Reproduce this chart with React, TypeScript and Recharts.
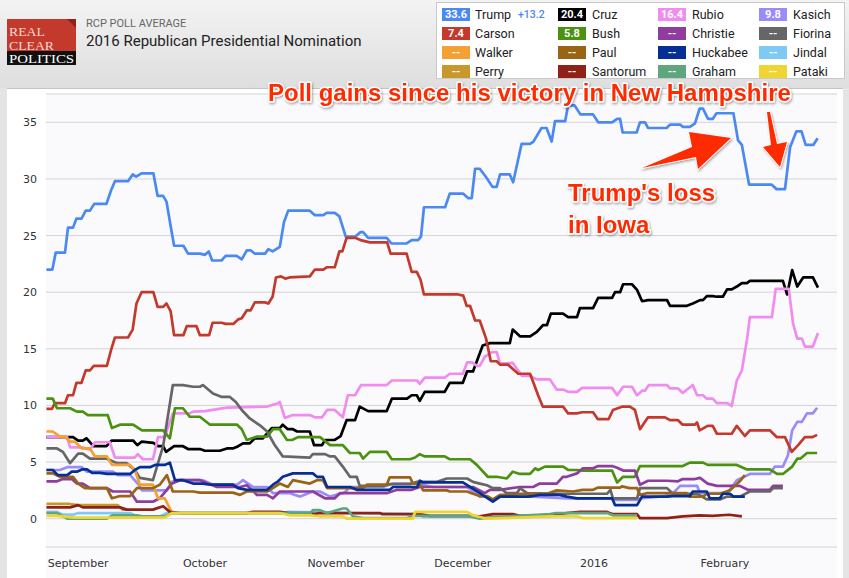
import { LineChart, Line, XAxis, YAxis, CartesianGrid } from "recharts";

type P = [number, number];

// x = days since Sep 1, 2015
const monthTicks = [0, 30, 61, 91, 122, 153];
const monthLabels = ["September", "October", "November", "December", "2016", "February"];
const yTicks = [0, 5, 10, 15, 20, 25, 30, 35];

const trump: P[] = [[-7.5,22],[-6.1,22],[-5.3,23.5],[-3.1,23.5],[-2.4,25.7],[-1.2,25.7],[-0.4,26.5],[0.8,26.5],[1.8,27.2],[2.8,27.2],[3.8,27.8],[6.7,27.8],[7.8,29],[8.7,29.8],[11.8,29.8],[12.9,30.4],[13.7,30.2],[15,30.5],[17.8,30.5],[18.8,28.5],[20.1,28.5],[20.9,28],[21.9,25.8],[22.7,24.1],[24.9,24.1],[26,23.4],[28.8,23.4],[30,23.3],[30.9,23.6],[31.7,22.8],[33.9,22.8],[34.9,23.2],[37.5,23.2],[38.7,22.9],[39.9,23.7],[40.8,23.7],[41.8,23.4],[44.2,23.4],[45,23.8],[46,23.6],[47.7,24],[48.7,26.2],[49.7,27.2],[54.8,27.2],[56,26.8],[58,26.8],[58.8,27],[60.7,27],[61.8,26.7],[63.3,24.9],[65.5,24.9],[66.8,25.3],[67.4,25.3],[68.6,24.8],[73,24.8],[74.1,24.3],[77.7,24.3],[78.9,24.6],[80.4,24.6],[81.1,24.9],[81.8,27.5],[86.8,27.5],[87.9,28.7],[91.1,28.7],[92.3,28.3],[93.1,28.3],[93.9,30.9],[95,30.9],[96.6,30.1],[98,29.3],[99,29.3],[99.8,30.4],[102.1,30.4],[102.9,29.7],[104.9,33.1],[106.9,33.1],[107.7,33.3],[109.6,34.5],[110.8,34.5],[112,33.3],[112.8,35.1],[115.2,35.1],[115.9,36.5],[117.4,36.5],[118.8,35.7],[121.8,35.7],[123,35],[126.3,35],[127.5,35.3],[128.2,35.3],[128.8,34.1],[132.1,34.1],[132.9,35],[134.1,35],[134.8,34.5],[139.2,34.5],[140,34.8],[142.4,34.8],[143,34.6],[144.7,34.6],[145.9,34.9],[147,36.2],[147.8,36.2],[149,35.3],[150.1,35.3],[151,35.8],[155,35.8],[156.1,33.4],[157,33],[158.7,29.5],[164,29.5],[165.2,29.1],[167.2,29.1],[168.4,32.8],[169.9,34.2],[171.1,34.2],[172.1,33],[173.9,33],[174.9,33.6]];

const cruz: P[] = [[-7.5,7.2],[-1.2,7.2],[0,6.9],[1.1,6.9],[2,7.1],[3.6,6.4],[6.7,6.4],[7.9,6.9],[13,6.9],[14,6.5],[15,6.8],[17.8,6.7],[18.9,6.4],[20.1,6.4],[20.8,5.9],[22.7,6.4],[24.8,6.4],[26,6.15],[28.8,6.15],[30,6],[33.5,6],[35.2,6.2],[36.6,6.2],[37.6,6.35],[39,6.65],[40.6,6.65],[41.8,7.1],[43.7,7.1],[44.4,7.4],[45.8,8],[47.7,8],[48.4,8.3],[49.6,7.9],[50.8,7.9],[51.8,7.7],[54.8,7.7],[55.8,6.5],[57.7,6.5],[58.4,6.95],[60.7,6.95],[62.1,7.3],[63.5,8.7],[65.5,8.7],[66.6,9.9],[68.6,9.5],[73,9.5],[74.2,10.6],[77.8,10.6],[78.9,10.9],[80.1,10.9],[80.8,10.4],[82,11.2],[86.7,11.2],[87.9,12],[91,12],[92,13],[93.4,13],[95.7,15.3],[97.4,15.5],[102.1,15.5],[102.8,16.7],[104.5,16.1],[106.9,16.1],[108.5,16.5],[110,17.1],[110.9,17.1],[111.8,18.1],[114.7,18.1],[115.9,17.8],[118,17.8],[118.7,18.6],[121.8,18.6],[123,19.5],[126.3,19.5],[127,20],[128.2,20],[128.9,20.7],[131,20.7],[132.2,20.2],[133.4,19.2],[134.8,19.3],[139.3,19.3],[140,18.8],[144,18.8],[145.4,19],[147.1,19.3],[147.8,19.3],[148.7,19.65],[150.1,19.65],[151.1,19.6],[152.5,19.6],[153.5,20.25],[154.6,20.25],[155.8,20.5],[157,20.8],[158.2,20.8],[158.9,21],[166.7,21],[167.7,19.8],[168.9,21.95],[170.1,20.5],[171.5,21.3],[173.8,21.3],[175,20.4]];

const rubio: P[] = [[-7.5,7.2],[-2.6,7.2],[-1.9,6.3],[0.9,6.3],[2.8,6.1],[4,6.75],[7.5,6.75],[8.7,5.4],[13.4,5.4],[14.1,5.7],[15.3,5.25],[17.7,5.25],[18.9,7.2],[20.5,7.2],[22.4,9.3],[26.4,9.3],[27.2,9.45],[30,9.5],[35.2,9.8],[44.7,9.9],[47.3,10.2],[47.7,10.3],[48.9,8.9],[50.8,9.15],[54.8,9.15],[56,8.95],[57.7,8.95],[58.9,9.6],[60.7,9.6],[62.6,8.95],[63.8,10.9],[65.5,10.9],[66.9,11.8],[73,11.8],[74.2,12.2],[80.2,12.2],[80.8,11.9],[82,12.45],[86.7,12.45],[87.9,12.8],[91,12.8],[92,13.8],[93.2,13.8],[94.3,13.5],[95,13.5],[96.2,14.3],[97.9,14.7],[99,14.7],[99.8,13.7],[102.8,13.75],[105,12.6],[106.9,12.6],[108.5,12.3],[111.6,12.3],[113.2,11.4],[114.7,11.4],[115.9,11.2],[118,11.2],[119.2,11.55],[126.3,11.55],[127.5,10.9],[128.9,11.65],[131,11.65],[132.2,10.9],[133.4,11.3],[134.1,11.3],[135,11.8],[139.3,11.8],[140,11.5],[141.9,11.5],[143,11.1],[145.4,11.8],[146.4,10.9],[147.8,10.9],[148.7,10.6],[150.1,10.6],[151.1,10.2],[153.5,10.2],[154.6,9.95],[155.8,12.2],[157,13.1],[158.2,15.8],[158.9,17.8],[164.1,17.8],[165,20.3],[168.1,20.3],[169.1,17.25],[170.1,15.9],[171.2,15.9],[171.9,15.2],[173.8,15.2],[175,16.4]];

const kasich: P[] = [[-7.5,4.3],[-4.3,4.3],[-2.6,4.55],[0.9,4.55],[2.1,4.15],[8.2,4.15],[9.4,3.85],[12.3,3.85],[14.1,3.1],[15.1,2.5],[21,2.5],[22.2,3.25],[24.1,3.4],[29.5,3.4],[31.9,3],[37.6,3],[39,3.4],[41.3,2.8],[44.7,2.8],[46.1,2.25],[50.1,2.25],[52.5,1.95],[55.5,2.4],[57.2,2.4],[59.6,1.95],[63,2.3],[64.3,2.8],[72.1,2.8],[74.5,3.1],[80.2,3.1],[83.9,2.8],[92,2.8],[95,1.95],[96.7,1.95],[98,1.6],[99.8,1.95],[107.6,1.95],[115.6,1.8],[126.3,1.8],[126.5,1.65],[132.2,1.65],[132.9,1.8],[138.8,2],[140.7,2.25],[142.4,2.9],[146.4,2.9],[147.1,2.25],[153.5,2.25],[155.8,3.4],[158.9,3.95],[163.6,3.95],[164.8,4.6],[166.7,4.6],[167.9,5.6],[168.9,7.8],[170.1,8.55],[171.2,8.55],[172.4,9.3],[173.8,9.3],[174.8,9.8]];

const carson: P[] = [[-7.5,9.7],[-6.2,9.7],[-5.5,10.2],[-3.1,10.2],[-2.4,10.9],[-1.2,10.9],[-0.4,12],[0.8,12],[1.8,13.1],[2.8,13.1],[3.7,13.5],[6.8,13.5],[7.8,14.9],[8.7,16],[11.8,16],[12.9,16.7],[13.8,19],[15,20],[17.8,20],[18.8,18.7],[20.1,18.7],[20.9,19],[21.9,18.3],[22.7,16.2],[24.9,16.2],[25.7,17],[28,17],[28.8,16.2],[31,16.2],[31.8,17.3],[33.9,17.3],[34.9,17.2],[36.7,17.2],[37.9,17.6],[38.7,17.7],[39.9,18.4],[40.8,18.4],[41.8,19.1],[44.2,19.1],[45,19],[46,19.6],[46.8,21.3],[48,21.4],[49,21.2],[50,21.3],[54.8,21.4],[56,22],[58,22],[58.8,22.2],[60.7,22.2],[61.8,23.6],[62.5,23.6],[63.5,24.8],[65.5,24.8],[66.8,24.6],[69,24.4],[73.1,24.4],[73.9,23.4],[77.7,23.4],[78.9,21.8],[80.1,21.8],[81,21.1],[81.8,19.8],[89.9,19.8],[91.1,19.7],[91.9,18.8],[92.7,18.8],[93.9,17.5],[95,17.5],[96.5,15.9],[97.6,13.9],[99,13.9],[99.8,13.6],[101.7,13.6],[104.1,12.8],[106.9,12.8],[107.7,12],[108.8,10.9],[109.9,9.9],[114.7,9.9],[115.9,9.3],[118,9.3],[119.2,9.4],[121.8,9.4],[122.9,8.8],[125.5,8.8],[126.5,9.6],[128.8,9.9],[130.5,9.9],[131.7,9.6],[132.9,7.9],[134.8,8.95],[138.8,8.95],[140,8.7],[141.9,8.7],[143,8.3],[145.9,8.3],[146.4,8.5],[147,7.8],[148.9,8.2],[150.1,8.2],[151.1,7.5],[154.6,7.5],[155.8,8.2],[157.7,7.3],[158.9,7.8],[163.6,7.8],[165.3,7.2],[167.2,7.2],[168.8,5.9],[170.3,6.5],[171.9,7.2],[173.6,7.2],[174.8,7.4]];

const bush: P[] = [[-7.5,10.6],[-6,10.6],[-5,9.75],[-1.9,9.75],[-0.3,9.45],[1.1,9.45],[2.3,9.15],[7,9.15],[8,8],[9.9,8.3],[13,8.3],[15.1,7.8],[20.1,7.8],[21.7,7.1],[22.9,9.75],[24.8,9.75],[26.4,9],[28.8,9],[31.2,8.3],[37.6,8.3],[38.7,7.9],[39.9,6.95],[42.3,7.25],[44.7,7.25],[46.1,7.9],[47.7,7.9],[49.4,6.95],[50.6,6.95],[52,7.2],[57.2,7.2],[59.6,6.5],[62.6,6.5],[64.3,5.8],[66.6,5.8],[67.4,5.3],[69,5.9],[73,5.9],[74.2,5.25],[78.5,5.25],[79.7,5.4],[80.8,5.7],[82,5.5],[86.7,5.5],[87.9,5.25],[92.7,5.25],[94.3,4.75],[96.9,3.7],[99,3.7],[101.4,3.55],[102.8,4.15],[104.5,3.95],[106.9,3.95],[108.1,4.45],[108.8,4.3],[110.4,4.6],[114.7,4.6],[115.9,4.3],[118,4.3],[119.4,4.25],[126.3,4.25],[127.5,3.2],[128.9,3.7],[131.7,3.7],[132.9,4.65],[143,4.65],[144.7,4.95],[147.8,4.95],[148.9,4.75],[155.8,4.75],[158.2,4.35],[163.6,4.35],[165.3,3.95],[166.7,3.95],[168.9,4.6],[170.1,5.3],[170.8,5.3],[172.4,5.8],[174.8,5.8]];

const christie: P[] = [[-7.5,3.3],[-5,3.3],[-3.6,3.5],[-1.5,3.5],[-0.3,3.1],[1.1,3.1],[2.8,2.7],[6.8,2.7],[8.2,2.4],[12.3,2.4],[13.9,1.5],[17.7,1.5],[19.3,1.8],[22.2,3.1],[24.1,3.4],[28.8,3.4],[32.8,2.8],[38.3,2.8],[39.9,2.95],[42.3,2.1],[44.7,2.1],[46.1,1.8],[47.7,2.4],[55.5,2.4],[58.4,1.8],[60.7,1.8],[61.9,2.25],[73,2.25],[75.4,2.55],[78.9,2.55],[80.8,2.8],[93.4,2.8],[96.2,2.25],[97.4,2.55],[99.8,2.55],[104.5,2.8],[107.6,2.8],[109.2,3.1],[113.2,3.1],[114.7,3.7],[115.6,3.7],[118,4],[119.4,4.45],[121.8,4.45],[123,4.65],[126.3,4.65],[127.5,4.5],[128.9,4.25],[131.7,4.25],[132.9,3],[134.8,3.35],[139.3,3.35],[141.9,3.3],[143,3.5],[145.9,3.5],[147.1,3.6],[148.9,3.1],[151.1,2.9],[156.5,2.9],[158.4,2.55],[163.6,2.55],[164.4,2.9],[166.7,2.9]];

const fiorina: P[] = [[-7.5,6.2],[-5,6.2],[-3.6,5.9],[-1.9,4.9],[0,5.75],[1.1,5.75],[2.8,5.3],[6.8,5.3],[9.2,4.9],[11.5,4.9],[13.4,4.3],[14.6,3.6],[17.7,3.4],[20.1,6.4],[22.4,11.8],[24.8,11.8],[27.2,11.65],[28.8,11.65],[29.5,11.8],[31.9,11.05],[34,10.75],[35.9,10.75],[37.3,10.3],[38.7,9.6],[40.6,8.85],[43,8.25],[44.7,7.7],[46.5,6.5],[48.4,5.5],[54.8,5.4],[55.5,5.7],[58.4,5.7],[59.6,5.5],[60.7,5.5],[62.6,4.6],[64.3,3.7],[65.9,3.7],[66.6,2.9],[72.1,2.9],[73.7,3.05],[78.5,3.05],[80.2,3.25],[84.9,3.25],[87.2,3.55],[92,3.55],[93.4,3.25],[95,3.1],[96.7,2.95],[98.1,2.7],[99.8,2.7],[101.4,2.25],[103.8,2.25],[104.5,2.7],[106.2,2.25],[113.9,2.2],[125.1,2.2],[125.9,2.55],[126.5,1.8],[132.2,1.8],[132.9,2.7],[139.3,2.7],[140.7,2.2],[146.4,2.2],[148.7,1.7],[151.8,1.7],[153.5,1.95],[156.5,1.95],[158.9,2.4],[163.6,2.4],[164.4,2.7],[166.7,2.7]];

const walker: P[] = [[-7.5,7.7],[-6,7.7],[-4.3,7.25],[-3.1,7.25],[-1.9,6.8],[-0.8,6.8],[0.9,6.2],[2.8,6.2],[4,5.5],[6.8,5.5],[8,4.75],[12.3,4.75],[13.4,4.3],[14.6,3],[17.7,3],[18.9,1.8],[20.5,1.8],[22.2,0.5]];

const paul: P[] = [[-7.5,4],[-6,4],[-4.3,3.7],[-1.2,3.7],[0,3.1],[1.6,2.7],[6.8,2.7],[8,1.8],[9.9,2],[12.3,2],[13.9,2.7],[17.7,2.7],[19.3,3],[21,3.85],[22.4,2.4],[27.2,2.4],[28.8,2.3],[36.6,2.3],[38.3,2.1],[39.9,2.4],[44.7,2.4],[45.4,2.55],[47.7,3.1],[49.6,2.8],[50.8,3.4],[54.8,3.1],[56.5,3.4],[57.9,3.4],[58.9,2.7],[67.4,2.7],[68.3,3],[73,3],[73.7,3.65],[78.5,3.65],[79.2,3.1],[80.8,3.1],[81.6,2.5],[87.2,2.5],[87.9,2.4],[92,2.4],[93.4,2.2],[95,2],[96.7,2],[98.1,1.7],[99.8,2.1],[102.8,2.1],[104.5,2.2],[110.9,2.2],[113.2,2.5],[117,2.4],[119.4,2.55],[121.8,2.55],[123,2.75],[128.2,2.75],[128.6,2.85],[130.5,2.7],[132.2,2.7],[132.9,2.1],[134.5,2.25],[144,2.25],[144.7,1.95],[147.8,1.95],[148.7,2.2],[151.8,2.2],[154.2,2.5],[156.5,3.3],[157.7,3.85]];

const huckabee: P[] = [[-7.5,4.3],[-6,4.3],[-4.8,3.85],[-2.6,3.85],[-1.5,4.15],[-0.3,4.15],[0.9,4.35],[2.1,4.35],[3.3,4.05],[5.2,4.05],[6.8,3.95],[12.3,3.95],[13.4,4.3],[14.6,4.55],[17,4.55],[18.2,4.75],[20.5,4.75],[21.7,4.95],[22.9,3.4],[24.8,3.4],[27.2,3.1],[29.5,3.1],[31.2,3],[36.6,3],[37.8,2.7],[39.9,2.55],[44.7,2.55],[46.1,3],[47.3,3.3],[48.4,3.7],[50.8,4],[55.5,4],[56.5,3.7],[57.9,3.7],[58.9,2.8],[64.3,2.8],[65.9,2.55],[73.7,2.55],[74.5,2.8],[80.2,2.8],[80.8,3.35],[81.6,3.2],[91,3.2],[92.7,2.8],[95,2.25],[98.1,1.5],[99.8,1.95],[106.2,1.95],[107.6,2],[109.2,2.1],[113.9,2.1],[115.6,1.95],[118,1.8],[126.3,1.8],[127,1.2],[132.2,1.2],[133.4,1.95],[139.3,1.95],[140.7,2],[144.7,2],[145.4,2.4],[148.7,2.4],[149.4,1.8],[151.8,1.8],[152.5,2.2],[154.2,2.2],[155,1.95],[157.7,1.95]];

const jindal: P[] = [[-7.5,0.6],[-5,0.6],[-3.6,0.35],[-1.2,0.35],[0,0.5],[12.3,0.5],[13.9,0.2],[19.3,0.2],[21,0.5],[47.7,0.5],[50,0.6],[65,0.5],[81,0.4],[81.6,0.15],[92.7,0.15]];

const perry: P[] = [[-7.5,1.3],[-2,1.3],[0,1.2],[9.4,1.2],[10.5,0.8],[11.5,0.8]];

const santorum: P[] = [[-7.5,1],[-1.9,1],[0,1.2],[1.1,1],[9.9,1],[11.5,0.8],[17.7,0.8],[20.1,1.1],[21.7,0.6],[24.1,0.5],[39.9,0.5],[41.3,0.6],[47.7,0.6],[50,0.5],[54.8,0.5],[56,0.4],[57,0.5],[71.4,0.5],[72,0.4],[80.8,0.4],[83.2,0.25],[92,0.25],[95,0.2],[98.1,0.4],[102.8,0.4],[104.5,0.25],[111.6,0.25],[115.6,0.5],[118.7,0.6],[125.1,0.6],[126.5,0.4],[132.2,0.4],[132.9,0.05],[139.3,0.05],[143,0.2],[147,0.3],[150,0.25],[154,0.35],[157,0.2]];

const graham: P[] = [[-7.5,0.5],[-5,0.5],[-2.6,0],[6.8,0],[8.2,0.3],[13.9,0.3],[15.1,0.2],[20.5,0.2],[22.2,0.5],[55,0.5],[55.5,0.75],[57.2,0.75],[58.9,0.5],[62.6,0.9],[63.5,0.9],[65,0.2],[67.4,0.05],[77.8,0.05],[79.2,0.25],[92,0.25],[95,0],[97,0.1],[104,0.25],[111.6,0.4],[113,0.5],[125.1,0.5],[126.5,0.3],[132.2,0.3]];

const pataki: P[] = [[-7.5,0.25],[-5,0.25],[-1,0.1],[20.5,0.1],[22.2,0.5],[47.7,0.5],[50,0.3],[55,0.3],[57.2,0.2],[62.6,0.2],[63.5,0],[79.2,0],[79.7,0.6],[92,0.6],[93.4,0.3],[96.7,0],[104,0.1],[111.6,0.2],[118,0.2],[119.4,0.05],[132.2,0.05]];

const series = [
  { name: "Trump", color: "#4a89f3", points: trump, active: true },
  { name: "Cruz", color: "#000000", points: cruz, active: true },
  { name: "Rubio", color: "#f08cf0", points: rubio, active: true },
  { name: "Kasich", color: "#9a8cf8", points: kasich, active: true },
  { name: "Carson", color: "#c33a2c", points: carson, active: true },
  { name: "Bush", color: "#4a9210", points: bush, active: true },
  { name: "Christie", color: "#8e3d9c", points: christie, active: false },
  { name: "Fiorina", color: "#666666", points: fiorina, active: false },
  { name: "Walker", color: "#f5a033", points: walker, active: false },
  { name: "Paul", color: "#9a6416", points: paul, active: false },
  { name: "Huckabee", color: "#062f96", points: huckabee, active: false },
  { name: "Jindal", color: "#7fcaf4", points: jindal, active: false },
  { name: "Perry", color: "#c8982a", points: perry, active: false },
  { name: "Santorum", color: "#8e2219", points: santorum, active: false },
  { name: "Graham", color: "#5fa67f", points: graham, active: false },
  { name: "Pataki", color: "#f0d532", points: pataki, active: false },
];

const last = (p: P[]) => p[p.length - 1][1];

const badgeX = [441, 557, 657, 758];
const nameX = [474, 591, 691, 792];
const rowY = [7, 26, 45, 64];

const Legend = () => (
  <div style={{ position: "absolute", left: 436, top: 2, width: 409, height: 77, background: "#fff", border: "1px solid #c9c9c9", boxSizing: "border-box" }}>
    {series.map((s, i) => {
      const col = i % 4;
      const row = Math.floor(i / 4);
      return (
        <div key={s.name}>
          <div style={{ position: "absolute", left: badgeX[col] - 436, top: rowY[row] - 2, width: 28, height: 13, background: s.color, color: "#fff", font: "bold 11px Roboto", lineHeight: "13px", textAlign: "center" }}>
            {s.active ? last(s.points).toFixed(1) : "--"}
          </div>
          <div style={{ position: "absolute", left: nameX[col] - 436, top: rowY[row] - 4, font: "12.5px Roboto", lineHeight: "17px", color: "#222" }}>{s.name}</div>
        </div>
      );
    })}
    <div style={{ position: "absolute", left: 517 - 436, top: rowY[0] - 4, font: "500 10.5px Roboto", lineHeight: "17px", color: "#4a89f3" }}>
      +{(last(trump) - last(cruz)).toFixed(1)}
    </div>
  </div>
);

const Logo = () => (
  <svg width={70} height={47} style={{ position: "absolute", left: 7, top: 19 }}>
    <rect x={0} y={0} width={69} height={33} fill="#c33a2c" />
    <polygon points="60,0 69,0 69,9" fill="#8f2219" />
    <rect x={0} y={32} width={69} height={14} fill="#111" />
    <g fontFamily="Liberation Serif, serif" fill="#f6d9d3">
      <text x={2} y={17} fontSize={12} textLength={36} lengthAdjust="spacingAndGlyphs">REAL</text>
      <text x={2} y={30.5} fontSize={12} textLength={45} lengthAdjust="spacingAndGlyphs">CLEAR</text>
    </g>
    <text x={2} y={44} fontSize={12} fill="#fff" fontFamily="Liberation Serif, serif" textLength={65} lengthAdjust="spacingAndGlyphs">POLITICS</text>
  </svg>
);

const Notes = () => (
  <svg width={849} height={578} style={{ position: "absolute", left: 0, top: 0, pointerEvents: "none" }}>
    <defs>
      <filter id="sh" x="-10%" y="-30%" width="120%" height="160%">
        <feDropShadow dx="1" dy="1.5" stdDeviation="1.2" floodColor="#000" floodOpacity="0.35" />
      </filter>
    </defs>
    <g filter="url(#sh)" fill="#fe2a00" stroke="#fff" strokeWidth={3} strokeLinejoin="round" style={{ paintOrder: "stroke" }} fontFamily="Liberation Sans, Arial, sans-serif" fontWeight="bold" fontSize={24}>
      <text x={268} y={101}>Poll gains since his victory in New Hampshire</text>
      <text x={568} y={201}>Trump's loss</text>
      <text x={568} y={233}>in Iowa</text>
      <polygon points="642,168 692,147 689,132 731,138 698,169 696,157" strokeWidth={1.5} />
      <polygon points="767,112 771,145 763,147 780,167 787,142 777,144 770,112" strokeWidth={1.5} />
    </g>
  </svg>
);

export default function App() {
  return (
    <div style={{ position: "fixed", left: 0, top: 0, width: 849, height: 578, overflow: "hidden", background: "linear-gradient(#f3f3f3, #dedede 88px, #e4e4e4 88px)" }}>
      <Logo />
      <div style={{ position: "absolute", left: 86, top: 17, font: "11px Roboto", color: "#666" }}>RCP POLL AVERAGE</div>
      <div style={{ position: "absolute", left: 86, top: 32, font: "15px Roboto", color: "#222" }}>2016 Republican Presidential Nomination</div>
      <Legend />
      <div style={{ position: "absolute", left: 7, top: 88, width: 836, height: 490, background: "#fff", borderTop: "1px solid #c4c4c4", boxSizing: "border-box" }} />
      <div style={{ position: "absolute", left: 46, top: 94, width: 791, height: 484, background: "#fafafd" }} />
      <LineChart width={849} height={489} style={{ position: "absolute", left: 0, top: 89 }} margin={{ top: 5, right: 12, bottom: 0, left: 0 }}>
        <CartesianGrid vertical={false} stroke="#d4d4d4" />
        <XAxis
          dataKey="d"
          type="number"
          domain={[-7.6, 179.5]}
          allowDataOverflow
          ticks={monthTicks}
          height={31}
          axisLine={false}
          tickLine={false}
          tick={(p: any) => (
            <text x={p.x} y={478} textAnchor="middle" fontFamily="DejaVu Sans" fontSize={11} fill="#333">
              {monthLabels[monthTicks.indexOf(p.payload.value)]}
            </text>
          )}
        />
        <YAxis
          type="number"
          domain={[-2.5, 37.5]}
          allowDataOverflow
          ticks={yTicks}
          width={46}
          axisLine={false}
          tickLine={false}
          tick={(p: any) => (
            <text x={37} y={p.y + 4} textAnchor="end" fontFamily="DejaVu Sans" fontSize={11} fill="#333">
              {p.payload.value}
            </text>
          )}
        />
        {series.map((s) => (
          <Line
            key={s.name}
            data={s.points.map(([d, v]) => ({ d, [s.name]: v }))}
            dataKey={s.name}
            type="linear"
            stroke={s.color}
            strokeWidth={2.7}
            strokeLinejoin="round"
            dot={false}
            activeDot={false}
            isAnimationActive={false}
          />
        ))}
      </LineChart>
      <Notes />
    </div>
  );
}
